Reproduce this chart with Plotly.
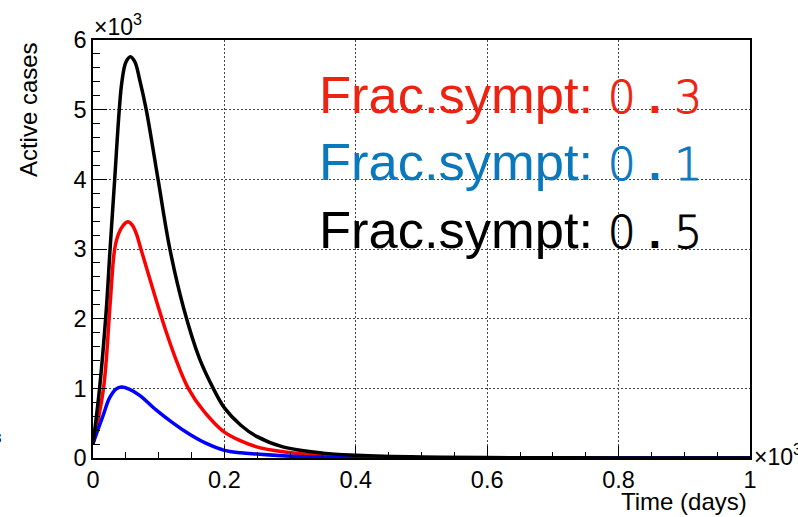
import plotly.graph_objects as go

# Active cases vs time for three symptomatic fractions
red_days = [0, 16, 26, 33, 39, 46, 53, 60, 66, 72, 84, 96, 110, 126, 145, 168, 200, 225, 249, 289, 350, 401, 500, 600, 800, 1000]
red_cases = [200, 1000, 2200, 3000, 3220, 3340, 3390, 3340, 3220, 3030, 2650, 2270, 1850, 1420, 1000, 680, 370, 245, 160, 90, 35, 15, 5, 2, 0, 0]

blue_days = [0, 15, 25, 35, 43, 55, 71, 96, 122, 147, 170, 200, 225, 249, 315, 400, 500, 700, 1000]
blue_cases = [210, 600, 860, 990, 1020, 990, 900, 690, 500, 340, 220, 110, 75, 57, 20, 6, 2, 0, 0]

black_days = [0, 10, 20, 26, 33, 40, 44, 50, 57, 64, 71, 81, 99, 117, 138, 162, 183, 200, 225, 249, 289, 350, 401, 500, 600, 800, 1000]
black_cases = [200, 1000, 2100, 3000, 4000, 5000, 5400, 5680, 5760, 5680, 5430, 5000, 4000, 3000, 2150, 1430, 1000, 720, 470, 310, 160, 70, 40, 15, 6, 1, 0]

series = [
    ("0.3", red_days, red_cases, "#ff0000", "#ee2211"),
    ("0.1", blue_days, blue_cases, "#0000ff", "#0a78bd"),
    ("0.5", black_days, black_cases, "#000000", "#000000"),
]

x_ticks = [0, 200, 400, 600, 800, 1000]
x_ticktext = ["0", "0.2", "0.4", "0.6", "0.8", "1"]
y_ticks = [0, 1000, 2000, 3000, 4000, 5000, 6000]
y_ticktext = ["0", "1", "2", "3", "4", "5", "6"]

SANS = "Liberation Sans, Arial, Helvetica, sans-serif"


def digit_span(text, color):
    # light digits, slightly thickened with a same-colour stroke
    style = (f"font-family:DejaVu Sans;font-weight:200;font-size:44px;"
             f"stroke:{color};stroke-width:0.9px")
    return f"<span style=\"{style}\">{text}</span>"


def dot_span():
    # the decimal point padded so it sits in a digit-wide cell
    return ("<span style=\"font-family:Liberation Sans;font-weight:bold;font-size:46px\">"
            "\u00a0.\u00a0</span>")


fig = go.Figure()
for label, days, cases, line_color, _ in series:
    fig.add_trace(go.Scatter(
        x=days, y=cases, mode="lines", name=label,
        line=dict(color=line_color, width=3.5, shape="spline", smoothing=1.0),
        showlegend=False, cliponaxis=True,
    ))

axis_common = dict(
    showline=True, linecolor="black", linewidth=1.5, mirror=True,
    ticks="inside", tickcolor="black", tickwidth=1,
    showgrid=True, gridcolor="#444444", gridwidth=1, griddash="2px,2px",
    zeroline=False,
    tickfont=dict(family=SANS, size=23.5, color="black"),
)

fig.update_xaxes(
    range=[0, 1000], tickvals=x_ticks, ticktext=x_ticktext, ticklen=12,
    minor=dict(ticks="inside", dtick=50, ticklen=6, tickcolor="black", showgrid=False),
    **axis_common,
)
fig.update_yaxes(
    range=[0, 6000], tickvals=y_ticks, ticktext=y_ticktext, ticklen=14,
    minor=dict(ticks="inside", dtick=200, ticklen=7, tickcolor="black", showgrid=False),
    **axis_common,
)

annotations = [
    # axis titles
    dict(text="Active cases", x=-0.098, y=1.0, xref="paper", yref="paper",
         xanchor="center", yanchor="top", textangle=-90, showarrow=False,
         font=dict(family=SANS, size=24, color="black")),
    dict(text="Time (days)", x=0.998, y=-0.068, xref="paper", yref="paper",
         xanchor="right", yanchor="top", showarrow=False,
         font=dict(family=SANS, size=24, color="black")),
    # exponent labels
    dict(text="×10<sup>3</sup>", x=-0.002, y=0.995, xref="paper", yref="paper",
         xanchor="left", yanchor="bottom", showarrow=False,
         font=dict(family=SANS, size=23, color="black")),
    dict(text="×10<sup>3</sup>", x=1.003, y=0.006, xref="paper", yref="paper",
         xanchor="left", yanchor="middle", showarrow=False,
         font=dict(family=SANS, size=23, color="black")),
    dict(text="<sup>3</sup>", x=-0.136, y=0.05, xref="paper", yref="paper",
         xanchor="right", yanchor="middle", showarrow=False,
         font=dict(family=SANS, size=22, color="black")),
]

# labels naming each series' symptomatic fraction
label_y = [0.869, 0.709, 0.547]
for (label, _, _, _, text_color), ly in zip(series, label_y):
    whole, frac = label.split(".")
    text = ("Frac.sympt: " + digit_span(whole, text_color) + dot_span()
            + digit_span(frac, text_color))
    annotations.append(dict(
        text=text, x=0.341, y=ly, xref="paper", yref="paper",
        xanchor="left", yanchor="middle", showarrow=False,
        font=dict(family=SANS, size=52.5, color=text_color),
    ))

fig.update_layout(
    width=798, height=517,
    margin=dict(l=93, r=48, t=40, b=59),
    paper_bgcolor="white", plot_bgcolor="white",
    annotations=annotations,
)

fig.write_html("out.html")
